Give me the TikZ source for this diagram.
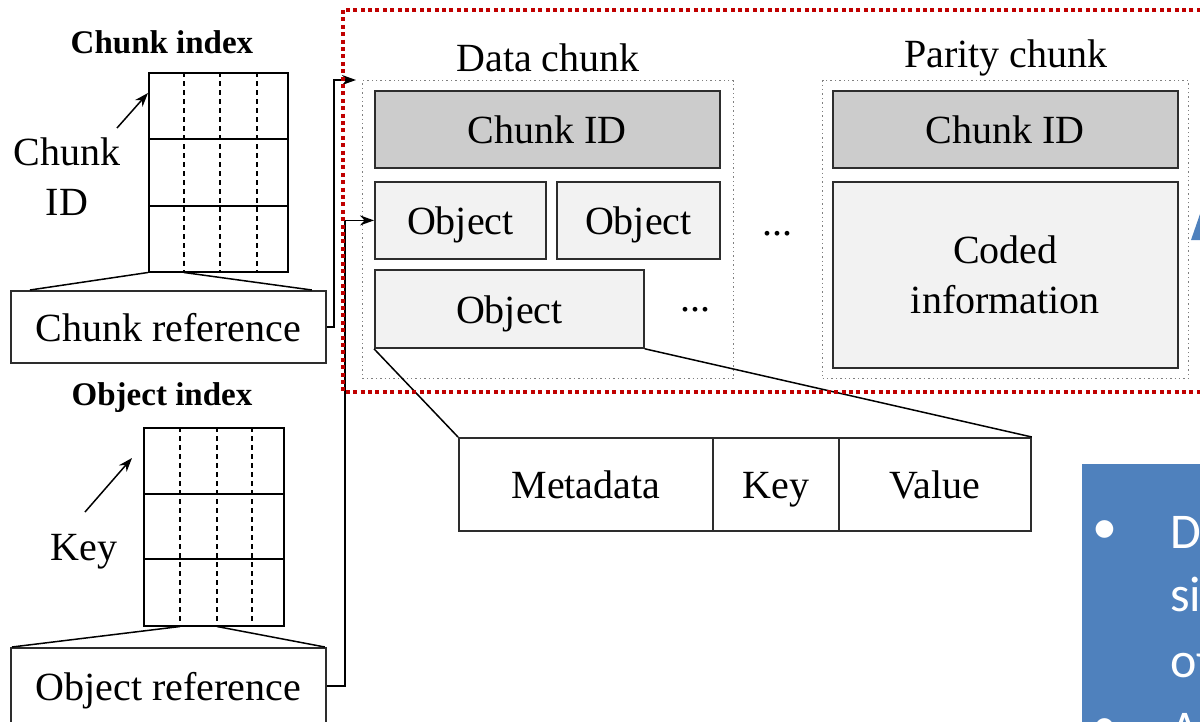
\documentclass[tikz,border=0pt]{standalone}
\usepackage{fontspec}
\setmainfont{Liberation Serif}
\newfontfamily\calib{Carlito}
\usetikzlibrary{arrows.meta}
\definecolor{rd}{RGB}{192,0,0}
\definecolor{bl}{RGB}{79,129,189}
\definecolor{gfill}{RGB}{204,204,204}
\definecolor{lfill}{RGB}{242,242,242}
\definecolor{edge}{RGB}{45,45,45}
\begin{document}
\begin{tikzpicture}[x=1pt,y=-1pt,
  txt/.style={font=\fontsize{40}{50}\selectfont, inner sep=0pt, align=center},
  btxt/.style={font=\bfseries\fontsize{33}{38}\selectfont, inner sep=0pt},
  box/.style={draw=edge, line width=1.8pt, inner sep=0pt, anchor=north west, font=\fontsize{40}{50}\selectfont, align=center},
  sbox/.style={box, text height=35pt, text depth=6pt},
  tbl/.style={draw=black, line width=1.5pt, inner sep=0pt, anchor=north west},
  tline/.style={line width=1.5pt},
  dsh/.style={line width=1.3pt, dash pattern=on 5pt off 4pt},
  dotbox/.style={draw=gray, line width=1.1pt, dash pattern=on 1.4pt off 3pt, inner sep=0pt, anchor=north west},
  conn/.style={line width=1.5pt, -{Stealth[length=14pt,width=10pt]}},
  plain/.style={line width=1.5pt},
  reddot/.style={draw=rd, line width=4pt, dash pattern=on 4pt off 3.4pt},
  btext/.style={font=\calib\fontsize{50}{60}\selectfont, text=white, inner sep=0pt, anchor=base west}
]
\useasboundingbox (0,0) rectangle (1200,721);
\clip (0,0) rectangle (1200,721);

% ---------- Chunk index ----------
\node[btxt] (cihead) at (162,42) {Chunk index};
\node[tbl, minimum width=139pt, minimum height=199pt] (ci) at (148,72) {};
\draw[tline] ([yshift=-67pt]ci.north west) -- ([yshift=-67pt]ci.north east);
\draw[tline] ([yshift=-134pt]ci.north west) -- ([yshift=-134pt]ci.north east);
\foreach \d in {36,72,109}{
  \draw[dsh] ([xshift=\d pt]ci.north west) -- ([xshift=\d pt]ci.south west);
}
\node[txt] (cidl) at (67,177) {Chunk\\ID};
\coordinate (cidtail) at (117,128);
\draw[conn] (cidtail) -- ([yshift=-21pt]ci.north west);
\node[sbox, fill=white, minimum width=315pt, minimum height=72pt] (cref) at (10,290) {Chunk reference};
\draw[plain] (ci.south west) -- ([xshift=20pt]cref.north west);
\draw[plain] ([xshift=36pt]ci.south west) -- ([xshift=-15pt]cref.north east);

% ---------- Object index ----------
\node[btxt] (oihead) at (162,398) {Object index};
\node[tbl, minimum width=140pt, minimum height=198pt] (oi) at (143,427) {};
\draw[tline] ([yshift=-67pt]oi.north west) -- ([yshift=-67pt]oi.north east);
\draw[tline] ([yshift=-132pt]oi.north west) -- ([yshift=-132pt]oi.north east);
\foreach \d in {37,74,109}{
  \draw[dsh] ([xshift=\d pt]oi.north west) -- ([xshift=\d pt]oi.south west);
}
\node[txt] (keyl) at (84,552) {Key};
\coordinate (keytail) at (85,512);
\coordinate (keyhead) at (132,458);
\draw[conn] (keytail) -- (keyhead);
\node[sbox, fill=white, minimum width=315pt, minimum height=76pt] (oref) at (10,647) {Object reference};
\draw[plain] ([xshift=37pt]oi.south west) -- ([xshift=2pt]oref.north west);
\draw[plain] ([xshift=74pt]oi.south west) -- ([xshift=-2pt]oref.north east);

% ---------- Data chunk ----------
\node[txt] (dchl) at (548,58) {Data chunk};
\node[dotbox, minimum width=371pt, minimum height=298pt] (dch) at (362,80) {};
\node[sbox, fill=gfill, minimum width=345pt, minimum height=77pt] (dcid) at (374,90) {Chunk ID};
\node[sbox, fill=lfill, minimum width=171pt, minimum height=77pt] (obj1) at (374,181) {Object};
\node[sbox, fill=lfill, minimum width=163pt, minimum height=77pt] (obj2) at (556,181) {Object};
\node[sbox, fill=lfill, minimum width=269pt, minimum height=78pt] (obj3) at (374,269) {Object};
\node[txt] (dots1) at (695,310) {...};
\node[txt] (dots2) at (777,234) {...};

% ---------- Parity chunk ----------
\node[txt] (pchl) at (1006,58) {Parity chunk};
\node[dotbox, minimum width=366pt, minimum height=298pt] (pch) at (822,80) {};
\node[sbox, fill=gfill, minimum width=345pt, minimum height=77pt] (pcid) at (832,90) {Chunk ID};
\node[box, fill=lfill, minimum width=345pt, minimum height=186pt] (coded) at (832,181) {Coded\\information};

% ---------- Object layout ----------
\node[sbox, fill=white, minimum width=254pt, minimum height=93pt] (meta) at (458,437) {Metadata};
\node[sbox, fill=white, minimum width=126pt, minimum height=93pt] (key) at (712,437) {Key};
\node[sbox, fill=white, minimum width=192pt, minimum height=93pt] (val) at (838,437) {Value};
\draw[plain] (obj3.south west) -- (meta.north west);
\draw[plain] (obj3.south east) -- (val.north east);

% ---------- connectors ----------
\draw[conn, shorten >=6pt] (cref.east) -- ++(7,0) |- (dch.north west);
\draw[conn] (oref.east) -- ++(18,0) |- (obj1.west);

% ---------- red dotted frame ----------
\draw[reddot] (343,10) rectangle (1215,392);

% ---------- blue box (cut off) ----------
\node[fill=bl, draw=white, line width=4pt, minimum width=150pt, minimum height=290pt, anchor=north west, inner sep=0pt] (blue) at (1078,460) {};
\node[font=\calib\fontsize{50}{60}\selectfont, text=white, inner sep=0pt] (bul1) at (1105,532) {•};
\node[btext] (l1) at (1170,548) {D};
\node[btext] (l2) at (1170,611) {si};
\node[btext] (l3) at (1170,677) {of};
\node[font=\calib\fontsize{50}{60}\selectfont, text=white, inner sep=0pt] (bul2) at (1105,730) {•};
\node[btext] (l4) at (1170,745) {A};
\fill[bl] (1191,240) -- (1200,214) -- (1200,240) -- cycle;
\end{tikzpicture}
\end{document}
